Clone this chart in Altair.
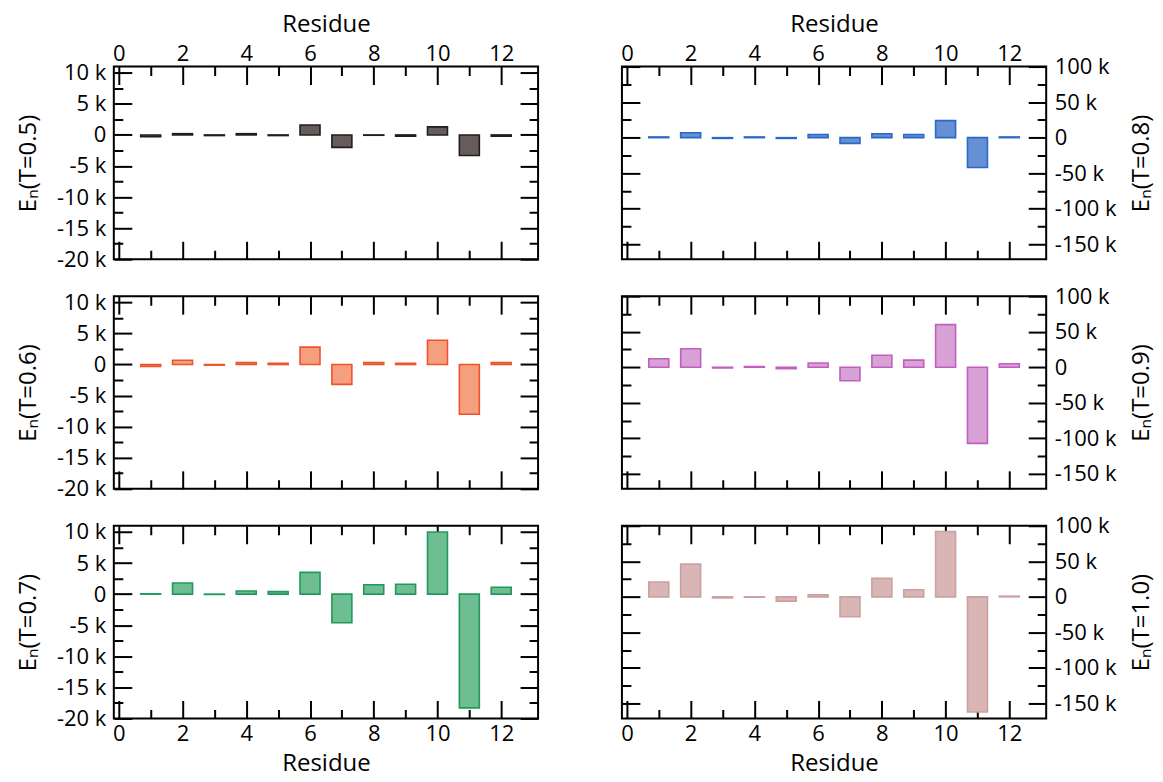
import altair as alt
import pandas as pd

# ---------------- data ----------------
residues = [1, 2, 3, 4, 5, 6, 7, 8, 9, 10, 11, 12]
e_t05 = [-300, 200, -100, 200, -100, 1600, -2000, -50, -200, 1300, -3300, -200]
e_t06 = [-300, 700, -100, 300, 200, 2800, -3200, 300, 200, 3900, -8000, 300]
e_t07 = [50, 1800, -50, 500, 400, 3500, -4600, 1500, 1600, 10000, -18300, 1100]
e_t08 = [1000, 7000, -1000, 1000, -1000, 4500, -8000, 5500, 4500, 24000, -42000, 1000]
e_t09 = [12000, 26000, -1000, 1000, -2000, 6000, -19000, 17000, 10000, 60000, -107000, 5000]
e_t10 = [21000, 46000, -1500, -500, -6000, 3000, -28000, 26000, 10000, 92000, -162000, 1000]

temps = ["T=0.5", "T=0.6", "T=0.7", "T=0.8", "T=0.9", "T=1.0"]
fills = ["#675c5c", "#f49f7e", "#6fbd93", "#6690d6", "#d9a2d6", "#d9b5b5"]
strokes = ["#231c1c", "#f0532c", "#1f9a5c", "#2a68c8", "#c25ec0", "#cba0a0"]

x_ticks = list(range(0, 13))
y_ticks_left = [-20000 + 2500 * i for i in range(13)]
y_ticks_right = [-150000 + 25000 * i for i in range(11)]

FONT = "Open Sans"
FS = 22
TFS = 24
TICK = 18
W, H = 425, 193


def x_axis(orient, labels, title):
    kw = dict(
        orient=orient, values=x_ticks, tickSize=TICK, offset=-TICK, domain=False,
        tickWidth=2, tickColor="black", grid=False, labels=labels,
        labelExpr="datum.value % 2 == 0 ? datum.label : ''",
        labelFont=FONT, labelFontSize=FS, labelColor="black",
        labelPadding=1 if orient == "top" else 5,
        labelOverlap=False, titleFont=FONT, titleFontSize=TFS, titleFontWeight="normal",
        titleColor="black", titlePadding=6 if orient == "top" else 7,
        tickDash={"condition": {"test": "datum.value % 2 != 0", "value": [0, 9, 9, 0]},
                  "value": [18, 0]},
        title=title,
    )
    return alt.Axis(**kw)


def y_axis(orient, values, step, title):
    kw = dict(
        orient=orient, values=values, tickSize=TICK, offset=-TICK, domain=False,
        tickWidth=2, tickColor="black", grid=False, labels=True,
        labelExpr=f"datum.value % {step} != 0 ? '' : (datum.value == 0 ? '0' : (datum.value/1000) + ' k')",
        labelFont=FONT, labelFontSize=FS, labelColor="black", labelPadding=8,
        labelOverlap=False, titleFont=FONT, titleFontSize=TFS, titleFontWeight="normal",
        titleColor="black", titlePadding=16,
        tickDash={"condition": {"test": f"datum.value % {step} != 0", "value": [0, 9, 9, 0]},
                  "value": [18, 0]},
        title=title,
    )
    if orient == "right":
        kw["titleAngle"] = 270
        kw["titleBaseline"] = "top"
        kw["titlePadding"] = 13
    return alt.Axis(**kw)


def plain_y_axis(orient, values, step):
    return alt.Axis(
        orient=orient, values=values, tickSize=TICK, offset=-TICK, domain=False,
        tickWidth=2, tickColor="black", grid=False, labels=False, title=None,
        tickDash={"condition": {"test": f"datum.value % {step} != 0", "value": [0, 9, 9, 0]},
                  "value": [18, 0]},
    )


def panel(values, idx, side, row):
    df = pd.DataFrame({"residue": residues, "E": values})
    xs = alt.Scale(domain=[0, 13], nice=False, zero=False)
    if side == "left":
        ys = alt.Scale(domain=[-20000, 11000], nice=False)
        yv, step = y_ticks_left, 5000
    else:
        ys = alt.Scale(domain=[-171000, 100000], nice=False)
        yv, step = y_ticks_right, 50000
    title_y = "E\u2099(" + temps[idx] + ")"

    top_lab = row == 0
    bot_lab = row == 2
    if side == "left":
        main_y = y_axis("left", yv, step, title_y)
        other_y = plain_y_axis("right", yv, step)
    else:
        main_y = y_axis("right", yv, step, title_y)
        other_y = plain_y_axis("left", yv, step)

    bars = alt.Chart(df).mark_bar(
        size=20, fill=fills[idx], stroke=strokes[idx], strokeWidth=1.6
    ).encode(
        x=alt.X("residue:Q", scale=xs,
                axis=x_axis("bottom", bot_lab, "Residue" if bot_lab else None)),
        y=alt.Y("E:Q", scale=ys, axis=main_y),
    )
    ghost = alt.Chart(df).mark_bar(size=20, opacity=0).encode(
        x=alt.X("residue:Q", scale=xs,
                axis=x_axis("top", top_lab, "Residue" if top_lab else None)),
        y=alt.Y("E:Q", scale=ys, axis=other_y),
    )
    return alt.layer(ghost, bars).resolve_axis(x="independent", y="independent").properties(
        width=W, height=H
    )


left_vals = [e_t05, e_t06, e_t07]
right_vals = [e_t08, e_t09, e_t10]

rows = []
for r in range(3):
    rows.append(
        alt.hconcat(
            panel(left_vals[r], r, "left", r),
            panel(right_vals[r], r + 3, "right", r),
            spacing=84, bounds="flush",
        )
    )

chart = alt.vconcat(*rows, spacing=13).properties(
    padding={"left": 7, "top": 3, "right": 0, "bottom": 0},
    background="white",
).configure_view(stroke="black", strokeWidth=2)

chart.save("out.html", embed_options={"renderer": "svg", "actions": False})
